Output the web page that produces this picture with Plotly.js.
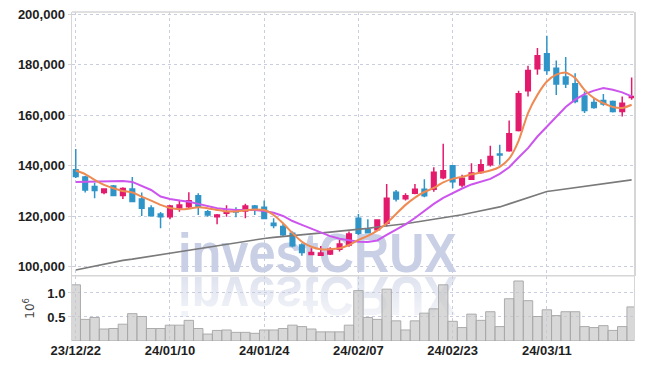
<!DOCTYPE html>
<html>
<head>
<meta charset="utf-8">
<script src="https://cdn.plot.ly/plotly-3.0.1.min.js"></script>
<style>
  html, body { margin:0; padding:0; background:#ffffff; }
  #wrap { position:relative; width:645px; height:369px; overflow:hidden; }
  #wm { position:absolute; left:178px; top:232.6px; font-family:"Liberation Sans",Arial,sans-serif; font-weight:bold; font-size:56px; line-height:40px; height:40px; letter-spacing:0px; color:#c9d0e6; white-space:nowrap; z-index:0; transform:scaleX(0.87); transform-origin:0 50%; }
  #refclip { position:absolute; left:0; top:276px; width:645px; height:65px; overflow:hidden; z-index:0;
     -webkit-mask-image:linear-gradient(to bottom, rgba(0,0,0,0.95), rgba(0,0,0,0)); mask-image:linear-gradient(to bottom, rgba(0,0,0,0.95), rgba(0,0,0,0)); }
  #wmr { position:absolute; left:178px; top:0.4px; font-family:"Liberation Sans",Arial,sans-serif; font-weight:bold; font-size:56px; line-height:40px; height:40px; letter-spacing:0px; color:#dde1ee; white-space:nowrap; transform:scaleX(0.87) scaleY(-1); transform-origin:0 50%; }
  #chart { position:absolute; left:0; top:0; width:645px; height:369px; z-index:1; }
</style>
</head>
<body>
<div id="wrap">
  <div id="wm">investCRUX</div>
  <div id="refclip"><div id="wmr">investCRUX</div></div>
  <div id="chart"></div>
</div>
<script>
const dates = ['23/12/22','23/12/26','23/12/27','23/12/28','24/01/02','24/01/03','24/01/04','24/01/05','24/01/08','24/01/09',
  '24/01/10','24/01/11','24/01/12','24/01/15','24/01/16','24/01/17','24/01/18','24/01/19','24/01/22','24/01/23',
  '24/01/24','24/01/25','24/01/26','24/01/29','24/01/30','24/01/31','24/02/01','24/02/02','24/02/05','24/02/06',
  '24/02/07','24/02/08','24/02/13','24/02/14','24/02/15','24/02/16','24/02/19','24/02/20','24/02/21','24/02/22',
  '24/02/23','24/02/26','24/02/27','24/02/28','24/02/29','24/03/04','24/03/05','24/03/06','24/03/07','24/03/08',
  '24/03/11','24/03/12','24/03/13','24/03/14','24/03/15','24/03/18','24/03/19','24/03/20','24/03/21','24/03/22'];

const openP  = [138400,135500,131800,129400,132000,128200,130800,126800,123300,120900,
  119800,123300,123800,128100,121800,119800,121200,122000,122100,124100,
  123600,117200,115900,113300,108600,104800,104500,105000,106900,108600,
  119200,114600,114600,117200,129500,126900,129100,130700,130700,135300,
  140000,132400,134700,137300,140400,144700,146000,154000,169700,178500,
  184400,178700,175200,172500,167700,165100,165900,165500,161500,167100];
const highP  = [146600,136000,133300,131100,132400,131500,135500,129400,124400,121700,
  124500,126500,129500,129100,122500,120900,124400,123600,124900,124500,
  126200,119200,117000,113900,109300,107300,108200,107700,110600,113900,
  120900,118800,118800,132800,130400,129100,132800,134700,139400,148700,
  140100,136400,141000,142600,147900,148300,157900,169700,179600,186700,
  191500,181700,183100,176700,169400,166800,168400,165900,167500,175000];
const lowP   = [135200,129400,127100,128700,127900,126800,125500,120100,120100,115200,
  118800,121800,123300,120500,119800,116800,119800,119600,119200,120500,
  118800,115200,112200,107700,104300,104600,104300,104600,106000,107900,
  112600,113300,114300,115900,125800,126200,128700,127500,129700,134700,
  131100,131500,134400,136800,139700,140400,145600,153600,167500,176100,
  176100,168100,170800,164800,160900,162600,163800,161100,159500,166200];
const closeP = [135700,130400,130200,130800,128200,131000,125800,123200,120200,119800,
  124100,124500,126100,123800,120500,120500,121600,121700,124100,122500,
  119100,116300,112700,108300,105600,105600,105400,106900,109000,113000,
  113300,113500,118500,127100,126800,128100,130700,128100,137400,138000,
  133700,135100,137100,140400,143700,144300,152700,168500,177800,183600,
  177800,172400,172400,165500,161900,163100,164500,161500,164800,167500];

const maShort = [138100,136700,134400,132400,131100,130000,129400,127800,126200,124500,
  123300,122800,123000,123600,123200,122500,121900,121900,122400,122700,
  122500,120500,117200,113300,109900,107900,106900,106900,107300,108600,
  110600,112200,114300,117200,120900,124500,127400,129600,131200,133400,
  134800,135600,136600,137300,138100,139600,142800,149900,160900,168100,
  173400,176100,177000,174800,170100,166800,164800,163300,162900,164200];
const maMid = [133600,133700,133800,133900,134000,134000,133600,132000,130400,127800,
  126800,126200,125700,124900,124100,123200,122800,122500,122500,122500,
  122100,121400,120100,118100,116600,115000,113500,112100,111100,110400,
  109900,109800,110400,112600,114600,116800,119300,122100,124900,127300,
  129300,131000,132600,133800,134800,136800,139400,143300,147000,151600,
  155600,159500,163300,166200,168400,169800,170800,170100,169100,167500];
const maLong = [98700,99500,100200,101000,101700,102500,103000,103600,104200,104800,
  105400,106000,106600,107100,107700,108200,108800,109400,110000,110600,
  111200,111600,111900,112300,112600,113000,113400,113700,114100,114400,
  114800,115200,115700,116100,116500,117000,117600,118200,118700,119300,
  119900,120600,121400,122100,122900,123700,124900,126100,127400,128600,
  129800,130300,130800,131400,131900,132400,132900,133400,133900,134400];

const volume = [1.17,0.45,0.49,0.25,0.26,0.35,0.57,0.51,0.26,0.26,
  0.33,0.33,0.43,0.26,0.145,0.22,0.23,0.18,0.18,0.16,
  0.23,0.23,0.26,0.33,0.30,0.25,0.19,0.19,0.19,0.33,
  1.05,0.49,0.45,1.08,0.42,0.23,0.42,0.58,0.67,1.17,
  0.41,0.28,0.56,0.43,0.61,0.30,0.88,1.25,0.84,0.51,
  0.65,0.53,0.61,0.61,0.30,0.28,0.32,0.22,0.30,0.71];

const tickLabels = ['23/12/22','24/01/10','24/01/24','24/02/07','24/02/23','24/03/11'];
const priceTicks = [100000,120000,140000,160000,180000,200000];
const volTicks = [0.5, 1.0];
const volTickText = ['0.5','1.0'];

const UP = '#e31b6d', DOWN = '#2f94c7';
const tickFont = {family:'"Liberation Sans",Arial,sans-serif', size:13, color:'#1e1e1e', weight:'bold'};
const GRID = '#c8cde0';

const traces = [
  {type:'bar', x:dates, y:volume, xaxis:'x', yaxis:'y2',
   marker:{color:'rgba(200,200,200,0.7)', line:{color:'rgba(165,165,165,0.9)', width:1}},
   hoverinfo:'skip'},
  {type:'scatter', mode:'lines', x:dates, y:maLong, xaxis:'x', yaxis:'y',
   line:{color:'#7a7a7a', width:1.6}},
  {type:'scatter', mode:'lines', x:dates, y:maMid, xaxis:'x', yaxis:'y',
   line:{color:'#cc55ee', width:2}},
  {type:'scatter', mode:'lines', x:dates, y:maShort, xaxis:'x', yaxis:'y',
   line:{color:'#ef8a52', width:2, shape:'spline', smoothing:0.6}},
  {type:'candlestick', x:dates, open:openP, high:highP, low:lowP, close:closeP, xaxis:'x', yaxis:'y',
   increasing:{line:{color:UP, width:1.5}, fillcolor:UP},
   decreasing:{line:{color:DOWN, width:1.5}, fillcolor:DOWN},
   whiskerwidth:0}
];

const layout = {
  width:645, height:369,
  margin:{l:72, r:11, t:12, b:28},
  paper_bgcolor:'rgba(0,0,0,0)', plot_bgcolor:'rgba(0,0,0,0)',
  showlegend:false, bargap:0, boxgap:0.3,
  xaxis:{type:'category', range:[-0.4, 59.25], anchor:'y2', tickvals:tickLabels, ticktext:tickLabels,
    showgrid:true, gridcolor:GRID, griddash:'dot', gridwidth:1, zeroline:false, showline:false,
    ticks:'', tickfont:tickFont, rangeslider:{visible:false}},
  yaxis:{domain:[0.1985, 1], range:[96430, 200950], tickvals:priceTicks, tickformat:',d',
    showgrid:true, gridcolor:GRID, griddash:'dot', gridwidth:1, zeroline:false,
    showline:true, linecolor:'#d6d6d6', linewidth:1.5, mirror:true,
    ticks:'outside', ticklen:3, tickcolor:'#d6d6d6', tickfont:tickFont},
  yaxis2:{domain:[0, 0.1985], range:[0, 1.36], tickvals:volTicks, ticktext:volTickText,
    showgrid:true, gridcolor:GRID, griddash:'dot', gridwidth:1, zeroline:false,
    showline:true, linecolor:'#d6d6d6', linewidth:1, mirror:true,
    ticks:'outside', ticklen:3, tickcolor:'#d6d6d6', tickfont:tickFont,
    title:{text:'10<sup>6</sup>', font:{family:'"DejaVu Sans",sans-serif', size:12, color:'#444'}, standoff:10}},
  shapes:[
    {type:'line', xref:'paper', yref:'paper', x0:0, x1:1, y0:1, y1:1, line:{color:'#d6d6d6', width:1.5}},
    {type:'line', xref:'paper', yref:'paper', x0:0, x1:1, y0:0.1985, y1:0.1985, line:{color:'#d6d6d6', width:1.5}}
  ]
};

Plotly.newPlot('chart', traces, layout, {displayModeBar:false, staticPlot:true});
</script>
</body>
</html>
